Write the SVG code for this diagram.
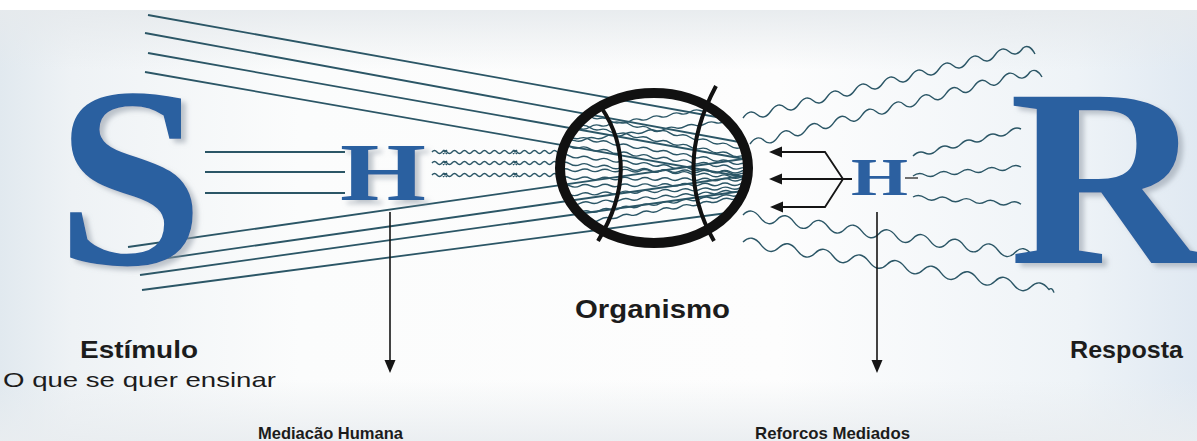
<svg xmlns="http://www.w3.org/2000/svg" width="1197" height="441" viewBox="0 0 1197 441">
  <defs>
    <linearGradient id="bgH" x1="0" y1="0" x2="1" y2="0">
      <stop offset="0" stop-color="#e1e9ef"/>
      <stop offset="0.06" stop-color="#eef2f5"/>
      <stop offset="0.25" stop-color="#fbfcfc"/>
      <stop offset="0.65" stop-color="#fdfdfd"/>
      <stop offset="0.9" stop-color="#eef3f7"/>
      <stop offset="1" stop-color="#e0e9f2"/>
    </linearGradient>
    <linearGradient id="bgTop" x1="0" y1="0" x2="0" y2="1">
      <stop offset="0" stop-color="#e6eaed" stop-opacity="0.9"/>
      <stop offset="1" stop-color="#e6eaed" stop-opacity="0"/>
    </linearGradient>
    <linearGradient id="bgBottom" x1="0" y1="0" x2="0" y2="1">
      <stop offset="0" stop-color="#e9edf0" stop-opacity="0"/>
      <stop offset="1" stop-color="#e9edf0" stop-opacity="0.9"/>
    </linearGradient>
    <filter id="shade" x="-10%" y="-10%" width="130%" height="130%">
      <feDropShadow dx="5" dy="4" stdDeviation="2.5" flood-color="#8f99a4" flood-opacity="0.55"/>
    </filter>
    <clipPath id="fanClip">
      <rect x="0" y="0" width="654" height="441"/>
      <ellipse cx="654" cy="168" rx="96" ry="77"/>
    </clipPath>
    <clipPath id="innerClip">
      <ellipse cx="654" cy="168" rx="94" ry="75"/>
    </clipPath>
    <style>
      .big { font-family: "Liberation Serif", "Times New Roman", serif; font-weight: bold; fill: #2c60a0; }
      .ray { stroke: #2b5666; stroke-width: 1.8; fill: none; }
      .wave { stroke: #2b5666; stroke-width: 1.4; fill: none; stroke-linejoin: round; }
      .ink { stroke: #151515; fill: none; }
      .label { font-family: "Liberation Sans", Arial, sans-serif; font-weight: bold; fill: #1c1c1c; }
      .sub { font-family: "Liberation Sans", Arial, sans-serif; fill: #1c1c1c; }
      .arrowhead { fill: #151515; }
    </style>
  </defs>

  <!-- background -->
  <rect width="1197" height="441" fill="url(#bgH)"/>
  <rect x="0" y="10" width="1197" height="60" fill="url(#bgTop)"/>
  <rect x="0" y="380" width="1197" height="61" fill="url(#bgBottom)"/>
  <rect x="0" y="0" width="1197" height="10" fill="#ffffff"/>

  <!-- connectors: rays, waves and arrows -->
  <g id="connectors">
    <!-- converging straight rays from the stimulus -->
    <g clip-path="url(#fanClip)">
      <path class="ray" d="M148 15 L750 123"/>
      <path class="ray" d="M145 33 L750 144"/>
      <path class="ray" d="M148 53 L750 160"/>
      <path class="ray" d="M145 72 L750 178"/>
      <path class="ray" d="M128 247 L750 158"/>
      <path class="ray" d="M140 262 L750 175"/>
      <path class="ray" d="M140 275 L750 190"/>
      <path class="ray" d="M142 290 L750 210"/>
    </g>
    <!-- S to H bars -->
    <path class="ray" d="M205 152 H345"/>
    <path class="ray" d="M205 172 H345"/>
    <path class="ray" d="M205 193 H345"/>

    <!-- H to organism waves -->
    <path class="wave" d="M432 152 q2.5 -3 5 0 t5 0 t5 0 t5 0 t5 0 t5 0 t5 0 t5 0 t5 0 t5 0 t5 0 t5 0 t5 0 t5 0 t5 0 t5 0 t5 0 t5 0 t5 0 t5 0 t5 0 t5 0 t5 0 t5 0 t5 0"/>
    <path class="wave" d="M432 163 q2.5 -3 5 0 t5 0 t5 0 t5 0 t5 0 t5 0 t5 0 t5 0 t5 0 t5 0 t5 0 t5 0 t5 0 t5 0 t5 0 t5 0 t5 0 t5 0 t5 0 t5 0 t5 0 t5 0 t5 0 t5 0 t5 0"/>
    <path class="wave" d="M432 175 q2.5 -3 5 0 t5 0 t5 0 t5 0 t5 0 t5 0 t5 0 t5 0 t5 0 t5 0 t5 0 t5 0 t5 0 t5 0 t5 0 t5 0 t5 0 t5 0 t5 0 t5 0 t5 0 t5 0 t5 0 t5 0 t5 0"/>
    <path class="wave" d="M443 150 l4 4 M447 150 l-4 4 M443 161 l4 4 M447 161 l-4 4 M443 173 l4 4 M447 173 l-4 4 M513 150 l4 4 M517 150 l-4 4 M513 161 l4 4 M517 161 l-4 4 M513 173 l4 4 M517 173 l-4 4"/>

    <!-- scribbles inside the organism -->
    <g clip-path="url(#innerClip)">
      <path class="wave" d="M560 110 q5 -1.5 10 2.1 t10 2.1 t10 2.1 t10 2.1 t10 2.1 t10 2.1 t10 2.1 t10 2.1 t10 2.1 t10 2.1 t10 2.1 t10 2.1 t10 2.1 t10 2.1 t10 2.1 t10 2.1 t10 2.1 t10 2.1 t10 2.1"/>
      <path class="wave" d="M560 122 q5 -1.5 10 1.9 t10 1.9 t10 1.9 t10 1.9 t10 1.9 t10 1.9 t10 1.9 t10 1.9 t10 1.9 t10 1.9 t10 1.9 t10 1.9 t10 1.9 t10 1.9 t10 1.9 t10 1.9 t10 1.9 t10 1.9 t10 1.9"/>
      <path class="wave" d="M560 135 q5 -1.7 10 1.6 t10 1.6 t10 1.6 t10 1.6 t10 1.6 t10 1.6 t10 1.6 t10 1.6 t10 1.6 t10 1.6 t10 1.6 t10 1.6 t10 1.6 t10 1.6 t10 1.6 t10 1.6 t10 1.6 t10 1.6 t10 1.6"/>
      <path class="wave" d="M560 145 q5 -2 10 1.3 t10 1.3 t10 1.3 t10 1.3 t10 1.3 t10 1.3 t10 1.3 t10 1.3 t10 1.3 t10 1.3 t10 1.3 t10 1.3 t10 1.3 t10 1.3 t10 1.3 t10 1.3 t10 1.3 t10 1.3 t10 1.3"/>
      <path class="wave" d="M560 155 q5 -2 10 1.05 t10 1.05 t10 1.05 t10 1.05 t10 1.05 t10 1.05 t10 1.05 t10 1.05 t10 1.05 t10 1.05 t10 1.05 t10 1.05 t10 1.05 t10 1.05 t10 1.05 t10 1.05 t10 1.05 t10 1.05 t10 1.05"/>
      <path class="wave" d="M560 163 q5 -2.2 10 0.8 t10 0.8 t10 0.8 t10 0.8 t10 0.8 t10 0.8 t10 0.8 t10 0.8 t10 0.8 t10 0.8 t10 0.8 t10 0.8 t10 0.8 t10 0.8 t10 0.8 t10 0.8 t10 0.8 t10 0.8 t10 0.8"/>
      <path class="wave" d="M560 170 q5 -2.5 10 0.1 t10 0.1 t10 0.1 t10 0.1 t10 0.1 t10 0.1 t10 0.1 t10 0.1 t10 0.1 t10 0.1 t10 0.1 t10 0.1 t10 0.1 t10 0.1 t10 0.1 t10 0.1 t10 0.1 t10 0.1 t10 0.1"/>
      <path class="wave" d="M560 178 q5 -2.5 10 0.1 t10 0.1 t10 0.1 t10 0.1 t10 0.1 t10 0.1 t10 0.1 t10 0.1 t10 0.1 t10 0.1 t10 0.1 t10 0.1 t10 0.1 t10 0.1 t10 0.1 t10 0.1 t10 0.1 t10 0.1 t10 0.1"/>
      <path class="wave" d="M560 186 q5 -2.6 10 -0.1 t10 -0.1 t10 -0.1 t10 -0.1 t10 -0.1 t10 -0.1 t10 -0.1 t10 -0.1 t10 -0.1 t10 -0.1 t10 -0.1 t10 -0.1 t10 -0.1 t10 -0.1 t10 -0.1 t10 -0.1 t10 -0.1 t10 -0.1 t10 -0.1"/>
      <path class="wave" d="M560 195 q5 -2.7 10 -0.4 t10 -0.4 t10 -0.4 t10 -0.4 t10 -0.4 t10 -0.4 t10 -0.4 t10 -0.4 t10 -0.4 t10 -0.4 t10 -0.4 t10 -0.4 t10 -0.4 t10 -0.4 t10 -0.4 t10 -0.4 t10 -0.4 t10 -0.4 t10 -0.4"/>
      <path class="wave" d="M560 205 q5 -2.9 10 -0.8 t10 -0.8 t10 -0.8 t10 -0.8 t10 -0.8 t10 -0.8 t10 -0.8 t10 -0.8 t10 -0.8 t10 -0.8 t10 -0.8 t10 -0.8 t10 -0.8 t10 -0.8 t10 -0.8 t10 -0.8 t10 -0.8 t10 -0.8 t10 -0.8"/>
      <path class="wave" d="M560 215 q5 -3.1 10 -1.15 t10 -1.15 t10 -1.15 t10 -1.15 t10 -1.15 t10 -1.15 t10 -1.15 t10 -1.15 t10 -1.15 t10 -1.15 t10 -1.15 t10 -1.15 t10 -1.15 t10 -1.15 t10 -1.15 t10 -1.15 t10 -1.15 t10 -1.15 t10 -1.15"/>
      <path class="wave" d="M560 226 q5 -3.3 10 -1.6 t10 -1.6 t10 -1.6 t10 -1.6 t10 -1.6 t10 -1.6 t10 -1.6 t10 -1.6 t10 -1.6 t10 -1.6 t10 -1.6 t10 -1.6 t10 -1.6 t10 -1.6 t10 -1.6 t10 -1.6 t10 -1.6 t10 -1.6 t10 -1.6"/>
      <path class="wave" d="M570 130 q5 -3.2 10 -1.5 t10 -1.5 t10 -1.5 t10 -1.5 t10 -1.5 t10 -1.5 t10 -1.5 t10 -1.5 t10 -1.5 t10 -1.5 t10 -1.5 t10 -1.5 t10 -1.5 t10 -1.5 t10 -1.5 t10 -1.5 t10 -1.5 t10 -1.5"/>
      <path class="wave" d="M565 142 q5 -3 10 -1.3 t10 -1.3 t10 -1.3 t10 -1.3 t10 -1.3 t10 -1.3 t10 -1.3 t10 -1.3 t10 -1.3 t10 -1.3 t10 -1.3 t10 -1.3 t10 -1.3 t10 -1.3 t10 -1.3 t10 -1.3 t10 -1.3 t10 -1.3 t10 -1.3"/>
    </g>

    <!-- response waves leaving the organism -->
    <path class="wave" d="M743 118 q7 -10 14 -3.5 t14 -3.5 t14 -3.5 t14 -3.5 t14 -3.5 t14 -3.5 t14 -3.5 t14 -3.5 t14 -3.5 t14 -3.5 t14 -3.5 t14 -3.5 t14 -3.5 t14 -3.5 t14 -3.5 t14 -3.5 t14 -3.5 t14 -3.5 t14 -3.5 t14 -3.5 q6 -5 12 6"/>
    <path class="wave" d="M750 144 q7 -10 14 -3.6 t14 -3.6 t14 -3.6 t14 -3.6 t14 -3.6 t14 -3.6 t14 -3.6 t14 -3.6 t14 -3.6 t14 -3.6 t14 -3.6 t14 -3.6 t14 -3.6 t14 -3.6 t14 -3.6 t14 -3.6 t14 -3.6 t14 -3.6 t14 -3.6 t14 -3.6 q6 -5 12 5"/>
    <path class="wave" d="M913 156 q6 -6 12 -3 t12 -3 t12 -3 t12 -3 t12 -3 t12 -3 t12 -3 t12 -3 t12 -3"/>
    <path class="wave" d="M913 176 q6 -4.5 12 -1 t12 -1 t12 -1 t12 -1 t12 -1 t12 -1 t12 -1 t12 -1 t12 -1"/>
    <path class="wave" d="M913 197 q6 -3.5 12 0.8 t12 0.8 t12 0.8 t12 0.8 t12 0.8 t12 0.8 t12 0.8 t12 0.8 t12 0.8"/>
    <path class="wave" d="M743 215 q8.5 -9 17 2.35 t17 2.35 t17 2.35 t17 2.35 t17 2.35 t17 2.35 t17 2.35 t17 2.35 t17 2.35 t17 2.35 t17 2.35 t17 2.35 t17 2.35 t17 2.35 t17 2.35 t17 2.35 t17 2.35"/>
    <path class="wave" d="M743 242 q9 -9 18 2.8 t18 2.8 t18 2.8 t18 2.8 t18 2.8 t18 2.8 t18 2.8 t18 2.8 t18 2.8 t18 2.8 t18 2.8 t18 2.8 t18 2.8 t18 2.8 t18 2.8 t18 2.8 t18 2.8 q3 -3 5 3"/>

    <!-- mediated reinforcement arrows pointing back at the organism -->
    <path class="ink" stroke-width="1.8" d="M780 152 H825 L843 179 L825 207 H780 M780 179 H852"/>
    <path class="arrowhead" d="M769 152 L782 146.5 L782 157.5 Z"/>
    <path class="arrowhead" d="M769 179 L782 173.5 L782 184.5 Z"/>
    <path class="arrowhead" d="M770 207 L783 201.5 L783 212.5 Z"/>
    <path class="ink" stroke-width="1.2" d="M905 178 H918"/>

    <!-- downward arrows to the bottom labels -->
    <path class="ink" stroke-width="1.6" d="M390 212 V362"/>
    <path class="arrowhead" d="M384.5 360 L395.5 360 L390 373 Z"/>
    <path class="ink" stroke-width="1.6" d="M877 212 V362"/>
    <path class="arrowhead" d="M871.5 360 L882.5 360 L877 373 Z"/>
  </g>

  <!-- organism -->
  <g id="organismo">
    <ellipse cx="654" cy="168" rx="94" ry="75" fill="none" stroke="#111" stroke-width="10"/>
    <path d="M601 107 Q642 168 598 241" fill="none" stroke="#111" stroke-width="4"/>
    <path d="M716 86 Q672 168 714 241" fill="none" stroke="#111" stroke-width="4"/>
    <text class="label" x="575" y="318" font-size="26" textLength="155" lengthAdjust="spacingAndGlyphs">Organismo</text>
  </g>

  <!-- stimulus -->
  <g id="estimulo">
    <text class="big" x="56" y="264" font-size="258" textLength="148" lengthAdjust="spacingAndGlyphs" filter="url(#shade)">S</text>
    <text class="label" x="80" y="358" font-size="24" textLength="118" lengthAdjust="spacingAndGlyphs">Estímulo</text>
    <text class="sub" x="3" y="387" font-size="21" textLength="273" lengthAdjust="spacingAndGlyphs">O que se quer ensinar</text>
  </g>

  <!-- human mediation -->
  <g id="mediacao">
    <text class="big" x="340" y="200" font-size="83" textLength="86" lengthAdjust="spacingAndGlyphs" filter="url(#shade)">H</text>
    <text class="label" x="258" y="439" font-size="17" textLength="145" lengthAdjust="spacingAndGlyphs">Mediacão Humana</text>
  </g>

  <!-- mediated reinforcement -->
  <g id="reforcos">
    <text class="big" x="851" y="195" font-size="53" textLength="57" lengthAdjust="spacingAndGlyphs">H</text>
    <text class="label" x="755" y="439" font-size="17" textLength="155" lengthAdjust="spacingAndGlyphs">Reforcos Mediados</text>
  </g>

  <!-- response -->
  <g id="resposta">
    <text class="big" x="1009" y="263" font-size="254" textLength="198" lengthAdjust="spacingAndGlyphs" filter="url(#shade)">R</text>
    <text class="label" x="1070" y="358" font-size="24" textLength="113" lengthAdjust="spacingAndGlyphs">Resposta</text>
  </g>
</svg>
